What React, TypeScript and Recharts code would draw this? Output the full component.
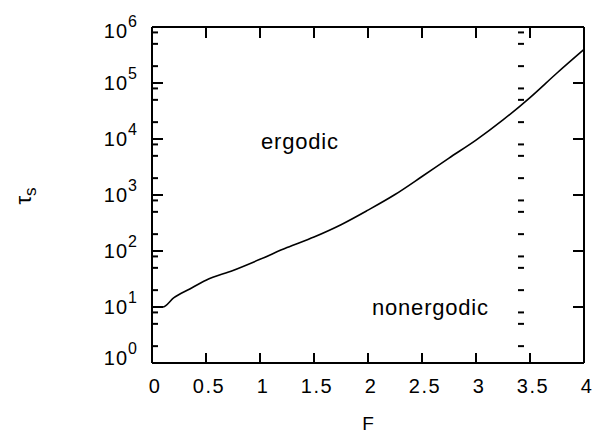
import { LineChart, Line, XAxis, YAxis } from 'recharts'

// F values and relaxation time tau_s
const fValues = [0, 0.1, 0.2, 0.35, 0.5, 0.75, 1, 1.25, 1.5, 1.75, 2, 2.25, 2.5, 2.75, 3, 3.25, 3.5, 3.75, 4]
const tauValues = [
  10, 10, 14.5, 21, 30, 45, 71, 115, 178, 295, 537, 1020, 2140, 4570, 9550, 21900, 55000, 151000, 398000,
]

const xTicks = [0, 0.5, 1, 1.5, 2, 2.5, 3, 3.5, 4]
const xTickLabels = ['0', '0.5', '1', '1.5', '2', '2.5', '3', '3.5', '4']
const majorYTicks = [1, 10, 100, 1000, 10000, 100000, 1000000]
const yTickExponents = ['0', '1', '2', '3', '4', '5', '6']
const minorYTicks = [
  2, 5, 8, 20, 50, 80, 200, 500, 800, 2000, 5000, 8000, 20000, 50000, 80000, 200000, 500000, 800000,
]

const data = fValues.map((f, i) => ({ f, tau: tauValues[i] }))

const FONT = '"Liberation Sans", Arial, Helvetica, sans-serif'
const tickStyle = { stroke: '#000', strokeWidth: 2 }

function LeftLabel(props: any) {
  const { x, y, index } = props
  let by = y + 7
  if (by > 365) by = 365
  if (by < 38) by = 38
  return (
    <text x={x} y={by} textAnchor="end" fontFamily={FONT} fontSize={20} letterSpacing={1} fill="#000">
      10
      <tspan dy={-11} fontSize={16}>
        {yTickExponents[index]}
      </tspan>
    </text>
  )
}

function BottomLabel(props: any) {
  const { x, y, index } = props
  return (
    <text x={x + 3} y={y} textAnchor="middle" fontFamily={FONT} fontSize={20} letterSpacing={1.5} fill="#000">
      {xTickLabels[index]}
    </text>
  )
}

function NoLabel() {
  return <g />
}

export default function App() {
  return (
    <div style={{ position: 'absolute', left: 0, top: 0, width: 608, height: 433, background: '#fff' }}>
      {/* text layer sits underneath the chart */}
      <svg width={608} height={433} style={{ position: 'absolute', left: 0, top: 0 }}>
        <text x={261} y={149} fontFamily={FONT} fontSize={22} letterSpacing={0.8} fill="#000">
          ergodic
        </text>
        <text x={372} y={315} fontFamily={FONT} fontSize={22} letterSpacing={0.8} fill="#000">
          nonergodic
        </text>
        <text x={368} y={430} textAnchor="middle" fontFamily={FONT} fontSize={19} fill="#000">
          F
        </text>
        <text transform="translate(31,196) rotate(-90)" textAnchor="middle" fontFamily={FONT} fontSize={22} fill="#000">
          τ
          <tspan dy={5} fontSize={17}>
            s
          </tspan>
        </text>
      </svg>
      <div style={{ position: 'absolute', left: 0, top: 0 }}>
        <LineChart width={608} height={433} data={data} margin={{ top: 27, right: 24, bottom: 0, left: 0 }}>
          <XAxis
            xAxisId="bottom"
            dataKey="f"
            type="number"
            domain={[0, 4]}
            ticks={xTicks}
            height={70}
            tickSize={-10}
            tickMargin={40}
            stroke="#000"
            strokeWidth={2}
            tickLine={tickStyle}
            tick={<BottomLabel />}
            interval={0}
          />
          <XAxis
            xAxisId="top"
            orientation="top"
            mirror
            dataKey="f"
            type="number"
            domain={[0, 4]}
            ticks={xTicks}
            tickSize={11}
            stroke="#000"
            strokeWidth={2}
            tickLine={tickStyle}
            tick={<NoLabel />}
            interval={0}
          />
          <YAxis
            yAxisId="left"
            scale="log"
            type="number"
            domain={[1, 1000000]}
            ticks={majorYTicks}
            width={152}
            tickSize={-11}
            tickMargin={25}
            stroke="#000"
            strokeWidth={2}
            tickLine={tickStyle}
            tick={<LeftLabel />}
            interval={0}
          />
          <YAxis
            yAxisId="leftMinor"
            mirror
            scale="log"
            type="number"
            domain={[1, 1000000]}
            ticks={minorYTicks}
            tickSize={6}
            stroke="#000"
            strokeWidth={2}
            axisLine={false}
            tickLine={tickStyle}
            tick={<NoLabel />}
            interval={0}
          />
          <YAxis
            yAxisId="right"
            orientation="right"
            mirror
            scale="log"
            type="number"
            domain={[1, 1000000]}
            ticks={majorYTicks}
            tickSize={11}
            stroke="#000"
            strokeWidth={2}
            tickLine={tickStyle}
            tick={<NoLabel />}
            interval={0}
          />
          <YAxis
            yAxisId="rightMinor"
            orientation="right"
            mirror
            scale="log"
            type="number"
            domain={[1, 1000000]}
            ticks={minorYTicks}
            tickSize={6}
            stroke="#000"
            strokeWidth={2}
            axisLine={false}
            tickLine={tickStyle}
            tick={<NoLabel />}
            interval={0}
          />
          <Line
            xAxisId="bottom"
            yAxisId="left"
            dataKey="tau"
            type="monotone"
            stroke="#000"
            strokeWidth={1.6}
            dot={false}
            activeDot={false}
            isAnimationActive={false}
          />
          {/* invisible copies so every extra axis has a series */}
          <Line xAxisId="bottom" yAxisId="leftMinor" dataKey="tau" type="monotone" stroke="none" dot={false} activeDot={false} isAnimationActive={false} />
          <Line xAxisId="top" yAxisId="right" dataKey="tau" type="monotone" stroke="none" dot={false} activeDot={false} isAnimationActive={false} />
          <Line xAxisId="top" yAxisId="rightMinor" dataKey="tau" type="monotone" stroke="none" dot={false} activeDot={false} isAnimationActive={false} />
        </LineChart>
      </div>
    </div>
  )
}
